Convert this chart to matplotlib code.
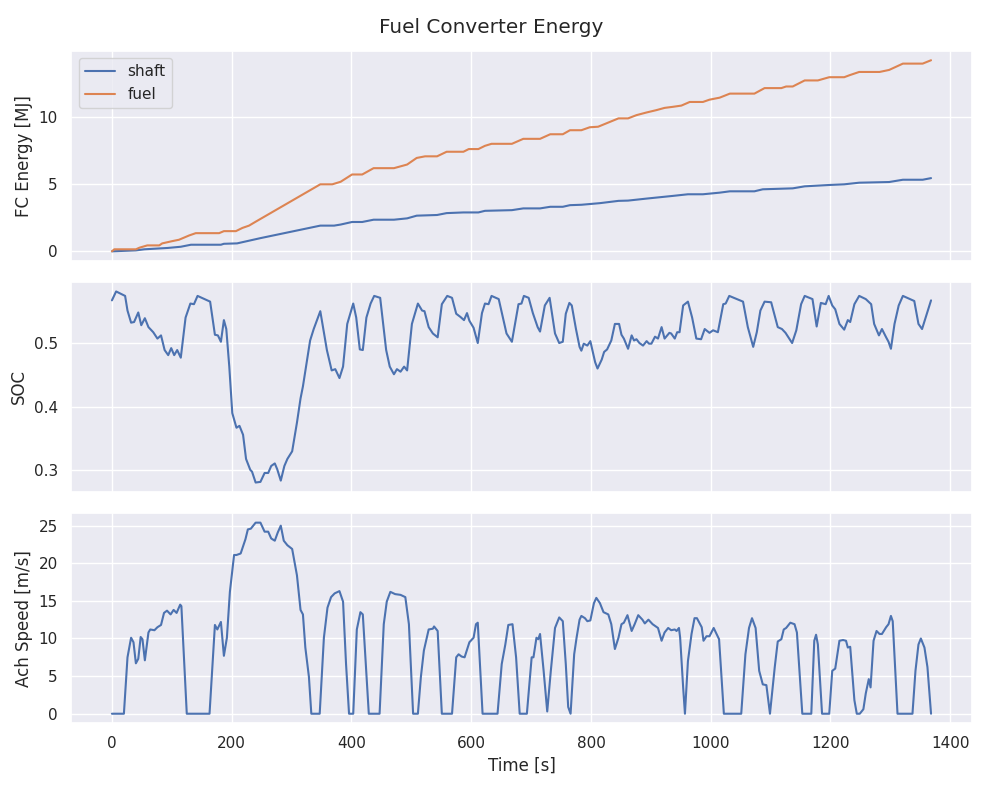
import numpy as np
import matplotlib
matplotlib.use("Agg")
import matplotlib.pyplot as plt
import seaborn as sns

# fuel converter cumulative energy [MJ]
t_fuel = [0, 4, 40, 46, 59, 79, 84, 101, 112, 129, 140, 179, 187, 207, 218, 229, 240,
          348, 368, 382, 401, 418, 437, 471, 493, 509, 523, 543, 559, 587, 596, 612,
          623, 634, 668, 687, 715, 732, 753, 765, 784, 798, 812, 846, 862, 876, 893,
          909, 923, 937, 951, 965, 987, 998, 1015, 1032, 1073, 1090, 1118, 1126, 1137,
          1157, 1179, 1198, 1223, 1232, 1248, 1282, 1298, 1321, 1354, 1368]
fuel = [0, 0.15, 0.15, 0.27, 0.44, 0.44, 0.59, 0.76, 0.86, 1.18, 1.35, 1.35, 1.5, 1.5,
        1.74, 1.91, 2.2, 4.98, 4.98, 5.17, 5.71, 5.71, 6.18, 6.18, 6.45, 6.94, 7.06,
        7.06, 7.4, 7.4, 7.6, 7.6, 7.84, 7.99, 7.99, 8.36, 8.36, 8.7, 8.7, 9.0, 9.0,
        9.22, 9.26, 9.88, 9.88, 10.12, 10.32, 10.49, 10.66, 10.74, 10.83, 11.1, 11.1,
        11.27, 11.42, 11.72, 11.72, 12.13, 12.13, 12.25, 12.25, 12.7, 12.7, 12.94,
        12.94, 13.09, 13.33, 13.33, 13.48, 13.95, 13.95, 14.2]

t_shaft = [0, 40, 54, 93, 115, 132, 182, 187, 209, 226, 248, 348, 371, 382, 401, 418,
           437, 471, 493, 509, 543, 559, 587, 612, 623, 668, 687, 715, 732, 753, 765,
           784, 815, 846, 862, 893, 937, 962, 987, 1015, 1032, 1073, 1087, 1137, 1157,
           1198, 1223, 1248, 1298, 1321, 1354, 1368]
shaft = [0, 0.07, 0.15, 0.25, 0.34, 0.49, 0.49, 0.56, 0.59, 0.76, 0.98, 1.91, 1.91,
         1.99, 2.18, 2.18, 2.35, 2.35, 2.45, 2.65, 2.7, 2.84, 2.89, 2.89, 3.01, 3.06,
         3.19, 3.19, 3.31, 3.31, 3.43, 3.46, 3.58, 3.75, 3.77, 3.92, 4.12, 4.24, 4.24,
         4.36, 4.46, 4.46, 4.61, 4.68, 4.83, 4.93, 4.98, 5.1, 5.15, 5.32, 5.32, 5.44]

# battery state of charge
t_soc = [0, 7, 22, 26, 32, 37, 44, 49, 55, 61, 69, 76, 82, 88, 94, 99, 104, 109, 115,
         123, 131, 137, 143, 164, 172, 177, 182, 187, 191, 196, 201, 208, 213, 219,
         224, 231, 234, 240, 248, 255, 261, 266, 272, 276, 282, 288, 293, 301, 309,
         315, 319, 325, 331, 337, 348, 359, 367, 373, 380, 386, 393, 403, 408, 414,
         419, 425, 432, 438, 448, 458, 464, 471, 476, 482, 488, 493, 501, 511, 518,
         522, 529, 536, 544, 551, 560, 568, 575, 582, 588, 593, 597, 604, 611, 618,
         623, 629, 634, 646, 659, 668, 679, 684, 688, 696, 703, 711, 715, 723, 731,
         740, 747, 753, 758, 764, 768, 775, 781, 784, 788, 794, 799, 807, 811, 818,
         822, 827, 834, 840, 847, 851, 855, 862, 868, 872, 876, 881, 887, 893, 897,
         901, 907, 912, 918, 923, 931, 934, 940, 944, 948, 954, 962, 969, 976, 984,
         990, 998, 1004, 1012, 1021, 1025, 1031, 1054, 1062, 1071, 1077, 1083, 1090,
         1101, 1112, 1119, 1125, 1136, 1143, 1151, 1157, 1170, 1177, 1184, 1192, 1197,
         1203, 1208, 1215, 1223, 1229, 1233, 1240, 1248, 1259, 1268, 1273, 1281, 1286,
         1293, 1297, 1301, 1307, 1314, 1321, 1340, 1347, 1353, 1361, 1368]
soc = [0.567, 0.581, 0.574, 0.551, 0.532, 0.533, 0.548, 0.528, 0.539, 0.525, 0.517,
       0.507, 0.512, 0.489, 0.481, 0.492, 0.481, 0.489, 0.477, 0.540, 0.562, 0.561,
       0.574, 0.565, 0.513, 0.512, 0.502, 0.536, 0.522, 0.463, 0.390, 0.367, 0.370,
       0.356, 0.318, 0.301, 0.298, 0.281, 0.282, 0.296, 0.296, 0.307, 0.311, 0.302,
       0.284, 0.307, 0.318, 0.330, 0.375, 0.413, 0.432, 0.468, 0.504, 0.522, 0.550,
       0.489, 0.457, 0.459, 0.445, 0.463, 0.530, 0.562, 0.540, 0.490, 0.489, 0.540,
       0.562, 0.574, 0.571, 0.489, 0.463, 0.451, 0.459, 0.455, 0.463, 0.457, 0.530,
       0.562, 0.551, 0.550, 0.525, 0.515, 0.509, 0.561, 0.574, 0.571, 0.546, 0.541,
       0.536, 0.547, 0.535, 0.524, 0.500, 0.547, 0.562, 0.561, 0.574, 0.569, 0.515,
       0.502, 0.561, 0.562, 0.574, 0.571, 0.547, 0.525, 0.518, 0.559, 0.571, 0.515,
       0.500, 0.502, 0.546, 0.563, 0.559, 0.522, 0.494, 0.488, 0.499, 0.496, 0.503,
       0.470, 0.460, 0.474, 0.486, 0.490, 0.504, 0.530, 0.530, 0.513, 0.507, 0.491,
       0.512, 0.504, 0.506, 0.500, 0.496, 0.503, 0.499, 0.499, 0.510, 0.507, 0.525,
       0.507, 0.516, 0.515, 0.507, 0.517, 0.517, 0.559, 0.565, 0.540, 0.507, 0.506,
       0.522, 0.516, 0.520, 0.517, 0.561, 0.562, 0.574, 0.565, 0.525, 0.494, 0.517,
       0.551, 0.565, 0.564, 0.525, 0.522, 0.516, 0.500, 0.520, 0.561, 0.574, 0.569,
       0.526, 0.563, 0.561, 0.574, 0.559, 0.553, 0.530, 0.521, 0.536, 0.533, 0.561,
       0.574, 0.569, 0.561, 0.530, 0.512, 0.522, 0.509, 0.502, 0.491, 0.530, 0.559,
       0.574, 0.566, 0.530, 0.522, 0.546, 0.567]

# achieved vehicle speed [m/s]
t_spd = [0, 20, 26, 32, 36, 40, 44, 48, 51, 55, 61, 64, 71, 76, 82, 87, 92, 98, 103,
         108, 114, 116, 125, 163, 172, 176, 182, 187, 192, 197, 204, 208, 215, 223,
         227, 232, 240, 248, 255, 261, 266, 272, 277, 282, 287, 293, 301, 309, 315,
         319, 323, 329, 333, 347, 354, 360, 366, 372, 380, 386, 391, 396, 403, 409,
         415, 419, 429, 447, 454, 459, 465, 473, 482, 490, 496, 503, 511, 516, 521,
         529, 536, 538, 544, 551, 568, 575, 579, 584, 589, 597, 604, 608, 611, 619,
         644, 651, 657, 662, 669, 675, 681, 693, 701, 704, 709, 712, 715, 721, 727,
         733, 740, 747, 753, 758, 762, 766, 772, 776, 781, 784, 790, 794, 799, 805,
         809, 815, 821, 829, 834, 840, 846, 851, 855, 861, 868, 873, 879, 886, 890,
         896, 903, 912, 918, 923, 929, 934, 940, 943, 947, 949, 954, 957, 962, 968,
         973, 977, 985, 988, 993, 998, 1005, 1014, 1022, 1051, 1058, 1064, 1069, 1075,
         1081, 1087, 1093, 1099, 1107, 1112, 1118, 1122, 1126, 1133, 1140, 1144, 1153,
         1168, 1173, 1176, 1179, 1186, 1198, 1203, 1208, 1215, 1221, 1226, 1229, 1233,
         1240, 1244, 1249, 1255, 1259, 1264, 1267, 1272, 1277, 1282, 1286, 1293, 1297,
         1301, 1304, 1312, 1337, 1342, 1347, 1351, 1357, 1362, 1368]
speed = [0, 0, 7.5, 10.1, 9.5, 6.7, 7.3, 10.2, 9.9, 7.1, 10.8, 11.2, 11.1, 11.5, 11.8,
         13.4, 13.7, 13.2, 13.8, 13.4, 14.5, 14.3, 0, 0, 11.8, 11.2, 12.2, 7.7, 10.1,
         16.2, 21.1, 21.1, 21.3, 23.2, 24.5, 24.6, 25.4, 25.4, 24.2, 24.2, 23.3, 23.0,
         24.1, 25.0, 23.0, 22.4, 21.9, 18.4, 13.8, 13.2, 8.8, 4.9, 0, 0, 10.1, 14.1,
         15.5, 16.0, 16.3, 14.9, 6.6, 0, 0, 11.2, 13.5, 13.2, 0, 0, 11.9, 14.9, 16.2,
         15.9, 15.8, 15.5, 11.9, 0, 0, 4.9, 8.4, 11.2, 11.3, 11.6, 11.0, 0, 0, 7.5,
         7.9, 7.6, 7.5, 9.5, 10.1, 11.9, 12.1, 0, 0, 6.6, 9.2, 11.8, 11.9, 7.5, 0, 0,
         7.5, 7.5, 10.1, 9.9, 10.6, 5.7, 0.3, 5.7, 11.4, 12.8, 12.3, 6.6, 0.9, 0, 7.9,
         10.1, 12.5, 13.0, 12.7, 12.3, 12.4, 14.7, 15.4, 14.7, 13.5, 13.2, 11.9, 8.6,
         10.1, 11.9, 12.1, 13.1, 11.0, 11.9, 13.1, 12.5, 12.0, 12.5, 11.9, 11.4, 9.7,
         10.8, 11.4, 11.1, 11.2, 11.0, 11.4, 10.1, 3.5, 0, 7.0, 10.6, 12.7, 12.7, 11.5,
         9.7, 10.3, 10.3, 11.4, 9.9, 0, 0, 7.9, 11.4, 12.7, 11.4, 5.7, 3.9, 3.8, 0,
         6.2, 9.6, 9.9, 11.2, 11.4, 12.1, 11.9, 10.8, 0, 0, 9.7, 10.5, 9.2, 0, 0, 5.7,
         6.0, 9.7, 9.8, 9.7, 8.8, 8.9, 1.8, 0, 0, 0.6, 2.7, 4.6, 3.5, 9.7, 11.0, 10.6,
         10.6, 11.5, 11.9, 13.0, 12.3, 0, 0, 5.7, 9.2, 10.0, 8.8, 6.2, 0]

sns.set_theme()

fig, ax = plt.subplots(3, 1, sharex=True, figsize=(9.83, 7.86), dpi=100)
fig.subplots_adjust(left=0.0722, right=0.9888, top=0.9355, bottom=0.0798, hspace=0.1)
fig.suptitle('Fuel Converter Energy', y=0.977)

ax[0].plot(t_shaft, shaft, label='shaft')
ax[0].plot(t_fuel, fuel, label='fuel')
ax[0].set_ylabel('FC Energy [MJ]')
ax[0].legend(loc='upper left')

ax[1].plot(t_soc, soc)
ax[1].set_ylabel('SOC')

ax[2].plot(t_spd, speed)
ax[2].set_ylabel('Ach Speed [m/s]')
ax[2].set_xlabel('Time [s]')

fig.savefig('out.png', dpi=100)
